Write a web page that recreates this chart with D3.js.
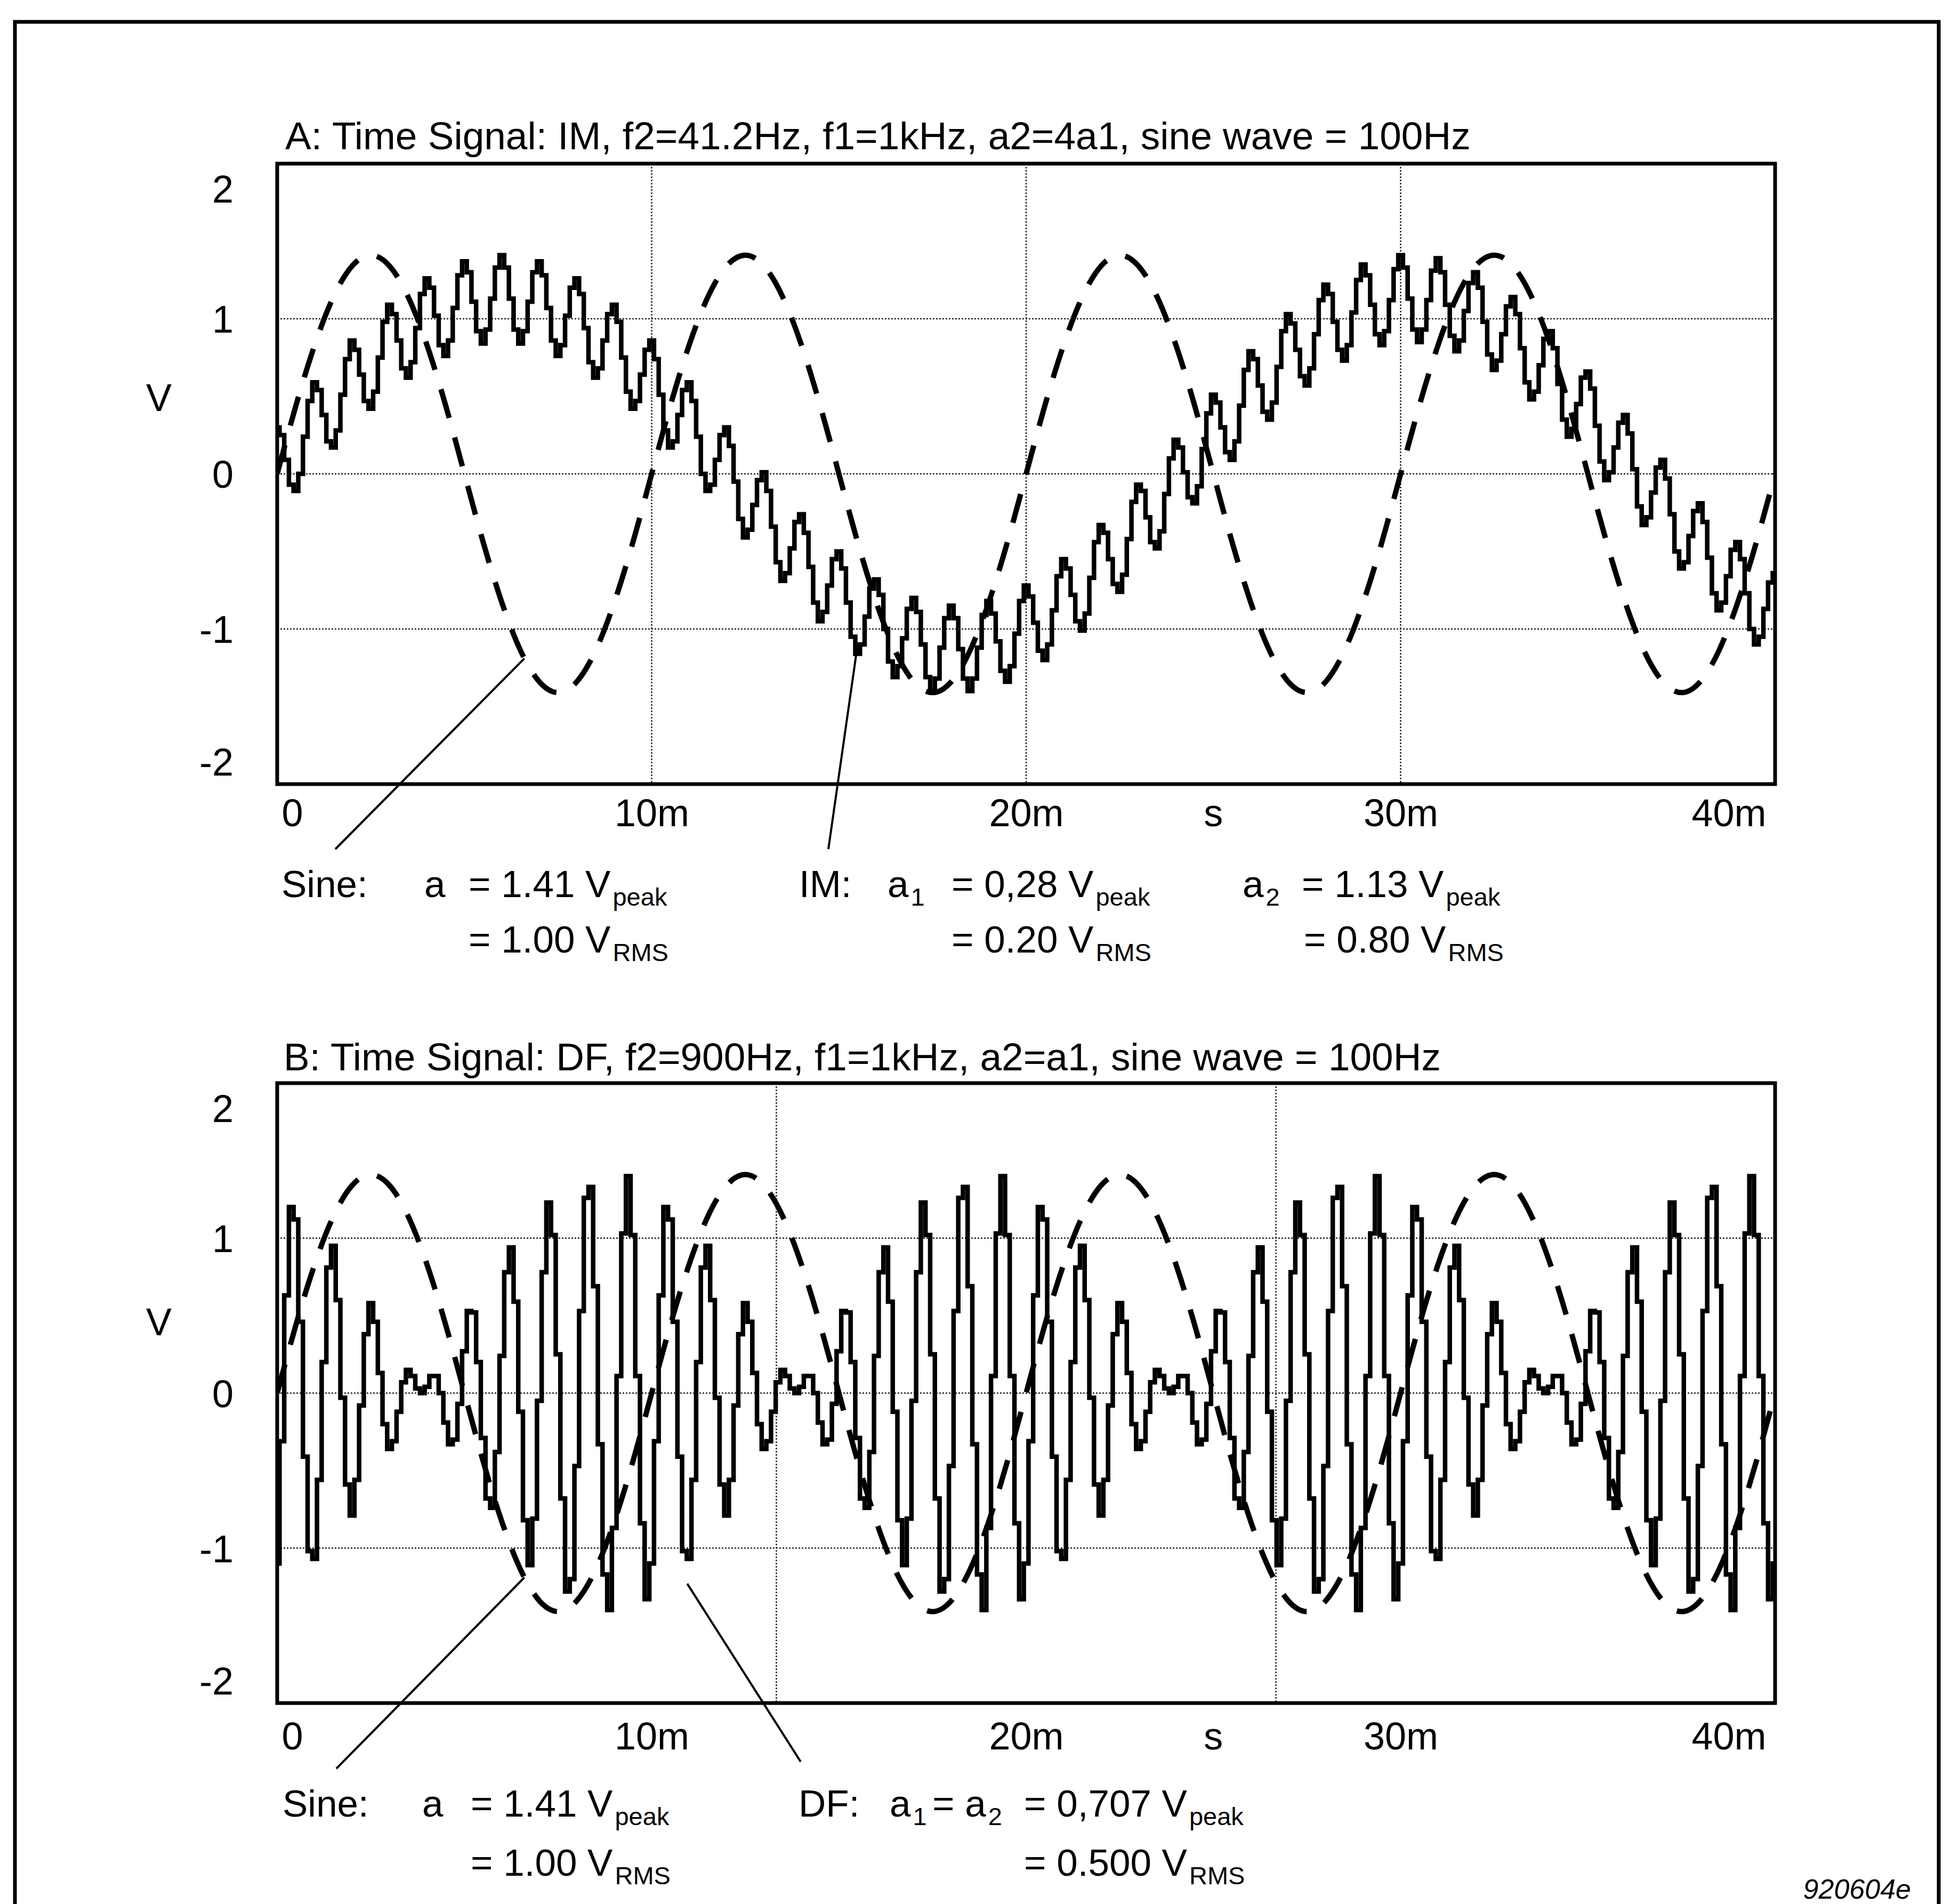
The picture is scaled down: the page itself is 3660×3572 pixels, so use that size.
<!DOCTYPE html>
<html><head><meta charset="utf-8">
<script src="https://cdn.jsdelivr.net/npm/d3@7"></script>
<style>
html,body{margin:0;padding:0;background:#fff;}
svg{display:block;}
text{font-family:"Liberation Sans", Arial, Helvetica, sans-serif; fill:#000;}
</style></head><body>
<svg id="chart" width="3660" height="3572"></svg>
<script>
// ---------------- DATA ----------------
const sampleStepMs = 0.125;   // sampling interval of the IM / DF traces (ms)
const sineStepMs = 0.5;       // sampling interval of the 100 Hz sine (ms)

// 100 Hz reference sine, a = 1.41 Vpeak, t = 0 .. 40 ms
const sineValues = [
 0,0.44,0.83,1.14,1.34,1.41,1.34,1.14,0.83,0.44,0,-0.44,-0.83,-1.14,-1.34,-1.41,-1.34,-1.14,-0.83,-0.44,
 0,0.44,0.83,1.14,1.34,1.41,1.34,1.14,0.83,0.44,0,-0.44,-0.83,-1.14,-1.34,-1.41,-1.34,-1.14,-0.83,-0.44,
 0,0.44,0.83,1.14,1.34,1.41,1.34,1.14,0.83,0.44,0,-0.44,-0.83,-1.14,-1.34,-1.41,-1.34,-1.14,-0.83,-0.44,
 0,0.44,0.83,1.14,1.34,1.41,1.34,1.14,0.83,0.44,0,-0.44,-0.83,-1.14,-1.34,-1.41,-1.34,-1.14,-0.83,-0.44,
 0
];

// IM signal (f2 = 41.2 Hz, f1 = 1 kHz), samples every 0.125 ms
const imValues = [
 0.30,0.25,0.09,-0.07,-0.11,0.00,0.24,0.47,
 0.59,0.54,0.38,0.21,0.17,0.28,0.51,0.74,
 0.86,0.80,0.64,0.47,0.42,0.53,0.75,0.98,
 1.09,1.03,0.86,0.68,0.62,0.72,0.94,1.16,
 1.26,1.20,1.02,0.83,0.76,0.86,1.07,1.28,
 1.37,1.30,1.11,0.92,0.84,0.93,1.13,1.33,
 1.41,1.33,1.13,0.93,0.84,0.92,1.11,1.30,
 1.37,1.28,1.07,0.86,0.76,0.83,1.02,1.20,
 1.26,1.16,0.94,0.72,0.62,0.68,0.86,1.03,
 1.09,0.98,0.75,0.53,0.42,0.47,0.64,0.80,
 0.86,0.74,0.51,0.28,0.17,0.21,0.38,0.54,
 0.59,0.47,0.24,0.00,-0.11,-0.07,0.09,0.25,
 0.30,0.18,-0.05,-0.29,-0.41,-0.36,-0.20,-0.04,
 0.01,-0.11,-0.34,-0.57,-0.69,-0.64,-0.48,-0.31,
 -0.26,-0.38,-0.60,-0.83,-0.95,-0.89,-0.72,-0.55,
 -0.50,-0.61,-0.83,-1.05,-1.16,-1.10,-0.92,-0.74,
 -0.68,-0.78,-1.00,-1.21,-1.31,-1.24,-1.06,-0.87,
 -0.80,-0.89,-1.10,-1.31,-1.40,-1.32,-1.12,-0.93,
 -0.85,-0.93,-1.13,-1.32,-1.40,-1.32,-1.12,-0.91,
 -0.82,-0.90,-1.08,-1.27,-1.34,-1.24,-1.03,-0.82,
 -0.72,-0.79,-0.96,-1.14,-1.20,-1.10,-0.88,-0.66,
 -0.55,-0.61,-0.78,-0.95,-1.01,-0.90,-0.67,-0.44,
 -0.33,-0.38,-0.55,-0.71,-0.76,-0.65,-0.42,-0.18,
 -0.07,-0.11,-0.28,-0.44,-0.48,-0.37,-0.13,0.10,
 0.22,0.17,0.01,-0.15,-0.19,-0.08,0.16,0.39,
 0.51,0.46,0.30,0.14,0.09,0.21,0.44,0.67,
 0.79,0.74,0.57,0.40,0.35,0.46,0.69,0.92,
 1.03,0.97,0.80,0.63,0.57,0.68,0.90,1.12,
 1.22,1.16,0.98,0.80,0.73,0.83,1.04,1.25,
 1.35,1.28,1.09,0.90,0.83,0.92,1.12,1.32,
 1.41,1.33,1.13,0.93,0.85,0.93,1.12,1.31,
 1.39,1.30,1.09,0.89,0.79,0.86,1.05,1.23,
 1.30,1.20,0.98,0.77,0.67,0.73,0.90,1.08,
 1.14,1.03,0.81,0.59,0.48,0.53,0.70,0.87,
 0.92,0.81,0.58,0.35,0.24,0.29,0.45,0.62,
 0.66,0.55,0.31,0.08,-0.04,0.01,0.17,0.33,
 0.38,0.26,0.03,-0.21,-0.33,-0.28,-0.12,0.04,
 0.09,-0.03,-0.26,-0.50,-0.61,-0.57,-0.40,-0.24,
 -0.19,-0.31,-0.54,-0.77,-0.88,-0.83,-0.66,-0.49,
 -0.44,-0.55,-0.77,-1.00,-1.10,-1.05,-0.87,-0.70,
 -0.64,-0.74
];

// DF signal (f2 = 900 Hz, f1 = 1 kHz), samples every 0.125 ms
const dfValues = [
 -1.10,-0.31,0.63,1.20,1.12,0.46,-0.41,-1.02,-1.07,-0.56,0.20,0.81,0.95,0.60,-0.03,-0.59,
 -0.79,-0.56,-0.08,0.38,0.58,0.46,0.13,-0.20,-0.36,-0.31,-0.12,0.07,0.15,0.11,0.03,0.00,
 0.04,0.11,0.11,0.00,-0.19,-0.33,-0.30,-0.07,0.27,0.53,0.52,0.20,-0.29,-0.68,-0.74,-0.38,
 0.24,0.78,0.94,0.59,-0.12,-0.82,-1.11,-0.81,-0.05,0.78,1.23,1.02,0.25,-0.68,-1.28,-1.20,
 -0.47,0.53,1.26,1.33,0.69,-0.33,-1.17,-1.40,-0.87,0.11,1.03,1.40,1.02,0.11,-0.84,-1.33,
 -1.10,-0.31,0.63,1.20,1.12,0.46,-0.41,-1.02,-1.07,-0.56,0.20,0.81,0.95,0.60,-0.03,-0.59,
 -0.79,-0.56,-0.08,0.38,0.58,0.46,0.13,-0.20,-0.36,-0.31,-0.12,0.07,0.15,0.11,0.03,0.00,
 0.04,0.11,0.11,0.00,-0.19,-0.33,-0.30,-0.07,0.27,0.53,0.52,0.20,-0.29,-0.68,-0.74,-0.38,
 0.24,0.78,0.94,0.59,-0.12,-0.82,-1.11,-0.81,-0.05,0.78,1.23,1.02,0.25,-0.68,-1.28,-1.20,
 -0.47,0.53,1.26,1.33,0.69,-0.33,-1.17,-1.40,-0.87,0.11,1.03,1.40,1.02,0.11,-0.84,-1.33,
 -1.10,-0.31,0.63,1.20,1.12,0.46,-0.41,-1.02,-1.07,-0.56,0.20,0.81,0.95,0.60,-0.03,-0.59,
 -0.79,-0.56,-0.08,0.38,0.58,0.46,0.13,-0.20,-0.36,-0.31,-0.12,0.07,0.15,0.11,0.03,0.00,
 0.04,0.11,0.11,0.00,-0.19,-0.33,-0.30,-0.07,0.27,0.53,0.52,0.20,-0.29,-0.68,-0.74,-0.38,
 0.24,0.78,0.94,0.59,-0.12,-0.82,-1.11,-0.81,-0.05,0.78,1.23,1.02,0.25,-0.68,-1.28,-1.20,
 -0.47,0.53,1.26,1.33,0.69,-0.33,-1.17,-1.40,-0.87,0.11,1.03,1.40,1.02,0.11,-0.84,-1.33,
 -1.10,-0.31,0.63,1.20,1.12,0.46,-0.41,-1.02,-1.07,-0.56,0.20,0.81,0.95,0.60,-0.03,-0.59,
 -0.79,-0.56,-0.08,0.38,0.58,0.46,0.13,-0.20,-0.36,-0.31,-0.12,0.07,0.15,0.11,0.03,0.00,
 0.04,0.11,0.11,0.00,-0.19,-0.33,-0.30,-0.07,0.27,0.53,0.52,0.20,-0.29,-0.68,-0.74,-0.38,
 0.24,0.78,0.94,0.59,-0.12,-0.82,-1.11,-0.81,-0.05,0.78,1.23,1.02,0.25,-0.68,-1.28,-1.20,
 -0.47,0.53,1.26,1.33,0.69,-0.33,-1.17,-1.40,-0.87,0.11,1.03,1.40,1.02,0.11,-0.84,-1.33,
 -1.10,-0.31
];

const xTickValues = [0, 10, 20, 30, 40];
const xTickLabels = ["0", "10m", "20m", "30m", "40m"];
const xUnitAt = 25;
const yTickValues = [2, 1, 0, -1, -2];
const yTickLabels = ["2", "1", "0", "-1", "-2"];
const gridYValues = [1, 0, -1];
const gridXValuesA = [10, 20, 30];
const gridXValuesB = [13.33, 26.67];

const titleA = "A: Time Signal: IM, f2=41.2Hz, f1=1kHz, a2=4a1, sine wave = 100Hz";
const titleB = "B: Time Signal: DF, f2=900Hz, f1=1kHz, a2=a1, sine wave = 100Hz";

// annotation texts: [main text, subscript] pairs
const notesA = [
  {x:528,  line:0, parts:[["Sine:",""]]},
  {x:796,  line:0, parts:[["a",""]]},
  {x:879,  line:0, parts:[["= 1.41 V","peak"]]},
  {x:1499, line:0, parts:[["IM:",""]]},
  {x:1665, line:0, parts:[["a","1"]]},
  {x:1785, line:0, parts:[["= 0,28 V","peak"]]},
  {x:2331, line:0, parts:[["a","2"]]},
  {x:2442, line:0, parts:[["= 1.13 V","peak"]]},
  {x:879,  line:1, parts:[["= 1.00 V","RMS"]]},
  {x:1785, line:1, parts:[["= 0.20 V","RMS"]]},
  {x:2446, line:1, parts:[["= 0.80 V","RMS"]]}
];
const notesB = [
  {x:530,  line:0, parts:[["Sine:",""]]},
  {x:792,  line:0, parts:[["a",""]]},
  {x:883,  line:0, parts:[["= 1.41 V","peak"]]},
  {x:1498, line:0, parts:[["DF:",""]]},
  {x:1669, line:0, parts:[["a","1"]]},
  {x:1749, line:0, parts:[["= a","2"]]},
  {x:1921, line:0, parts:[["= 0,707 V","peak"]]},
  {x:883,  line:1, parts:[["= 1.00 V","RMS"]]},
  {x:1921, line:1, parts:[["= 0.500 V","RMS"]]}
];

// ---------------- DRAWING ----------------
const svg = d3.select("#chart");
const frameL = 520, frameR = 3330;
const x = d3.scaleLinear().domain([0, 40]).range([frameL, frameR]);

// outer border (open at bottom)
svg.append("path")
  .attr("d", "M28,3572 L28,41 L3637,41 L3637,3572")
  .attr("fill", "none").attr("stroke", "#000").attr("stroke-width", 7);

const panels = [
  {id:"A", top:307, bottom:1471, title:titleA, titleX:535, titleY:280, signal:imValues,
   gridX:gridXValuesA, vY:771, xLabelY:1550, notes:notesA, noteY:[1683,1787],
   leaders:[{from:[629,1593], t:6.6, v:-1.19}, {from:[1554,1593], t:15.5, v:-1.10}]},
  {id:"B", top:2032, bottom:3195, title:titleB, titleX:532, titleY:2008, signal:dfValues,
   gridX:gridXValuesB, vY:2505, xLabelY:3282, notes:notesB, noteY:[3408,3519],
   leaders:[{from:[631,3318], t:6.6, v:-1.19}, {from:[1502,3305], t:10.95, v:-1.23}]}
];

panels.forEach(p => {
  const y = d3.scaleLinear().domain([-2, 2]).range([p.bottom, p.top]);
  const g = svg.append("g").attr("class", "panel-" + p.id);
  const clipId = "clip" + p.id;
  svg.append("defs").append("clipPath").attr("id", clipId)
    .append("rect").attr("x", frameL).attr("y", p.top)
    .attr("width", frameR - frameL).attr("height", p.bottom - p.top);

  // title
  g.append("text").attr("x", p.titleX).attr("y", p.titleY)
    .attr("font-size", 73).text(p.title);

  // grid
  g.selectAll(".hgrid").data(gridYValues).join("line").attr("class","hgrid")
    .attr("x1", frameL).attr("x2", frameR).attr("y1", d => y(d)).attr("y2", d => y(d))
    .attr("stroke", "#222").attr("stroke-width", 2.5).attr("stroke-dasharray", "3,3");
  g.selectAll(".vgrid").data(p.gridX).join("line").attr("class","vgrid")
    .attr("y1", p.top).attr("y2", p.bottom).attr("x1", d => x(d)).attr("x2", d => x(d))
    .attr("stroke", "#222").attr("stroke-width", 2.5).attr("stroke-dasharray", "3,3");

  const plot = g.append("g").attr("clip-path", `url(#${clipId})`);
  // dashed 100 Hz sine
  const sineLine = d3.line().x((d, i) => x(i * sineStepMs)).y(d => y(d)).curve(d3.curveNatural);
  plot.append("path").attr("d", sineLine(sineValues))
    .attr("fill", "none").attr("stroke", "#000").attr("stroke-width", 10)
    .attr("stroke-dasharray", "56,38");
  // stepped signal trace
  const sigLine = d3.line().x((d, i) => x(i * sampleStepMs)).y(d => y(d)).curve(d3.curveStep);
  plot.append("path").attr("d", sigLine(p.signal))
    .attr("fill", "none").attr("stroke", "#000").attr("stroke-width", 8.5)
    .attr("stroke-linejoin", "miter");

  // frame
  g.append("rect").attr("x", frameL).attr("y", p.top)
    .attr("width", frameR - frameL).attr("height", p.bottom - p.top)
    .attr("fill", "none").attr("stroke", "#000").attr("stroke-width", 7);

  // y axis
  const yAxis = d3.axisLeft(y).tickValues(yTickValues)
    .tickFormat((d, i) => yTickLabels[i]).tickSize(0).tickPadding(82);
  const ya = g.append("g").attr("transform", `translate(${frameL},0)`).call(yAxis);
  ya.select(".domain").remove();
  ya.attr("font-size", 72);
  ya.selectAll("text").attr("fill", "#000").attr("dy", "0.36em")
    .attr("y", d => d === 2 ? 47 : (d === -2 ? -42 : 0));

  // x axis
  const xAxis = d3.axisBottom(x).tickValues(xTickValues)
    .tickFormat((d, i) => xTickLabels[i]).tickSize(0).tickPadding(0);
  const xa = g.append("g").attr("transform", `translate(0,${p.bottom})`).call(xAxis);
  xa.select(".domain").remove();
  xa.attr("font-size", 72);
  xa.selectAll("text").attr("fill", "#000").attr("dy", null)
    .attr("y", p.xLabelY - p.bottom)
    .attr("text-anchor", d => d === 0 ? "start" : (d === 40 ? "end" : "middle"))
    .attr("dx", d => d === 0 ? 8 : (d === 40 ? -17 : 0));
  g.append("text").attr("x", x(xUnitAt)).attr("y", p.xLabelY)
    .attr("text-anchor", "middle").attr("font-size", 72).text("s");

  // y unit
  g.append("text").attr("x", 298).attr("y", p.vY)
    .attr("text-anchor", "middle").attr("font-size", 72).text("V");

  // leader lines
  g.selectAll(".leader").data(p.leaders).join("line").attr("class","leader")
    .attr("x1", d => d.from[0]).attr("y1", d => d.from[1])
    .attr("x2", d => x(d.t)).attr("y2", d => y(d.v))
    .attr("stroke", "#000").attr("stroke-width", 4);

  // annotations
  p.notes.forEach(n => {
    const t = g.append("text").attr("x", n.x).attr("y", p.noteY[n.line]).attr("font-size", 71);
    n.parts.forEach(([main, sub]) => {
      t.append("tspan").text(main);
      if (sub) {
        t.append("tspan").attr("font-size", 47).attr("dx", 4).attr("dy", 16).text(sub);
        t.append("tspan").attr("dy", -16).text("");
      }
    });
  });
});

// figure code
svg.append("text").attr("x", 3585).attr("y", 3562).attr("text-anchor", "end")
  .attr("font-size", 52).attr("font-style", "italic").text("920604e");
</script>
</body></html>
